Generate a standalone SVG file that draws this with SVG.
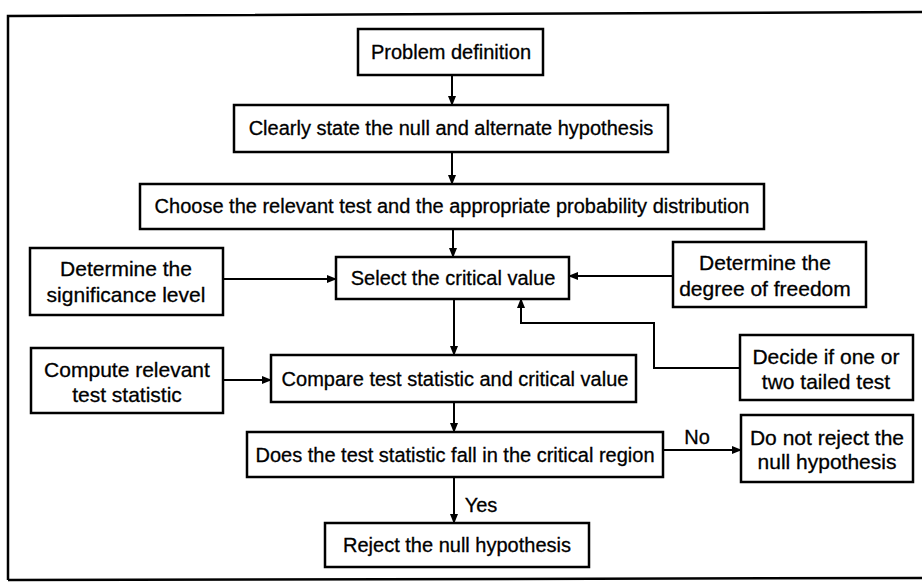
<svg xmlns="http://www.w3.org/2000/svg" width="922" height="584" viewBox="0 0 922 584">
<style>
.box{fill:#fff;stroke:#000;stroke-width:2.5}
.t{font-family:"Liberation Sans",Arial,sans-serif;font-size:20px;fill:#000;text-anchor:middle;dominant-baseline:central;stroke:#000;stroke-width:0.3}
.t2{font-size:21px}
.c{fill:none;stroke:#000;stroke-width:2}
</style>
<defs>
<marker id="ah" markerWidth="10" markerHeight="8" refX="9" refY="4" orient="auto" markerUnits="userSpaceOnUse">
<path d="M0,0 L10,4 L0,8 Z" fill="#000"/>
</marker>
</defs>
<rect width="922" height="584" fill="#fff"/>
<path d="M8,580 L8,16 L925,12" fill="none" stroke="#000" stroke-width="2.5"/>
<path d="M8,580 L925,578" fill="none" stroke="#000" stroke-width="2.5"/>
<g id="connectors">
<line class="c" x1="452" y1="75" x2="452" y2="105" marker-end="url(#ah)"/>
<line class="c" x1="452" y1="152" x2="452" y2="184" marker-end="url(#ah)"/>
<line class="c" x1="453" y1="229" x2="453" y2="257" marker-end="url(#ah)"/>
<line class="c" x1="223" y1="279" x2="336" y2="279" marker-end="url(#ah)"/>
<line class="c" x1="673" y1="276" x2="569" y2="276" marker-end="url(#ah)"/>
<polyline class="c" points="740,368 654,368 654,323 521,323 521,299" marker-end="url(#ah)"/>
<line class="c" x1="454" y1="299" x2="454" y2="355" marker-end="url(#ah)"/>
<line class="c" x1="223" y1="380" x2="271" y2="380" marker-end="url(#ah)"/>
<line class="c" x1="454" y1="402" x2="454" y2="432" marker-end="url(#ah)"/>
<line class="c" x1="663" y1="450" x2="741" y2="450" marker-end="url(#ah)"/>
<line class="c" x1="454" y1="477" x2="454" y2="523" marker-end="url(#ah)"/>
<text class="t" x="697" y="437">No</text>
<text class="t" x="481" y="505">Yes</text>
</g>
<g id="n1"><rect class="box" x="358" y="29" width="185" height="46"/><text class="t" x="451" y="52">Problem definition</text></g>
<g id="n2"><rect class="box" x="234" y="105" width="434" height="47"/><text class="t" x="451" y="128">Clearly state the null and alternate hypothesis</text></g>
<g id="n3"><rect class="box" x="140" y="184" width="624" height="45"/><text class="t" x="452" y="206">Choose the relevant test and the appropriate probability distribution</text></g>
<g id="n4"><rect class="box" x="336" y="257" width="233" height="42"/><text class="t" x="453" y="278">Select the critical value</text></g>
<g id="n5"><rect class="box" x="30" y="248" width="193" height="67"/><text class="t t2" x="126" y="268">Determine the</text><text class="t t2" x="126" y="294">significance level</text></g>
<g id="n6"><rect class="box" x="673" y="242" width="193" height="65"/><text class="t t2" x="765" y="262">Determine the</text><text class="t t2" x="765" y="288">degree of freedom</text></g>
<g id="n7"><rect class="box" x="740" y="335" width="173" height="65"/><text class="t t2" x="826" y="356">Decide if one or</text><text class="t t2" x="826" y="381">two tailed test</text></g>
<g id="n8"><rect class="box" x="31" y="348" width="192" height="65"/><text class="t t2" x="127" y="369">Compute relevant</text><text class="t t2" x="127" y="394">test statistic</text></g>
<g id="n9"><rect class="box" x="271" y="355" width="365" height="47"/><text class="t" x="455" y="379">Compare test statistic and critical value</text></g>
<g id="n10"><rect class="box" x="247" y="432" width="416" height="45"/><text class="t" x="455" y="455">Does the test statistic fall in the critical region</text></g>
<g id="n11"><rect class="box" x="741" y="415" width="172" height="67"/><text class="t t2" x="827" y="437">Do not reject the</text><text class="t t2" x="827" y="461">null hypothesis</text></g>
<g id="n12"><rect class="box" x="325" y="523" width="264" height="44"/><text class="t" x="457" y="545">Reject the null hypothesis</text></g>
</svg>
